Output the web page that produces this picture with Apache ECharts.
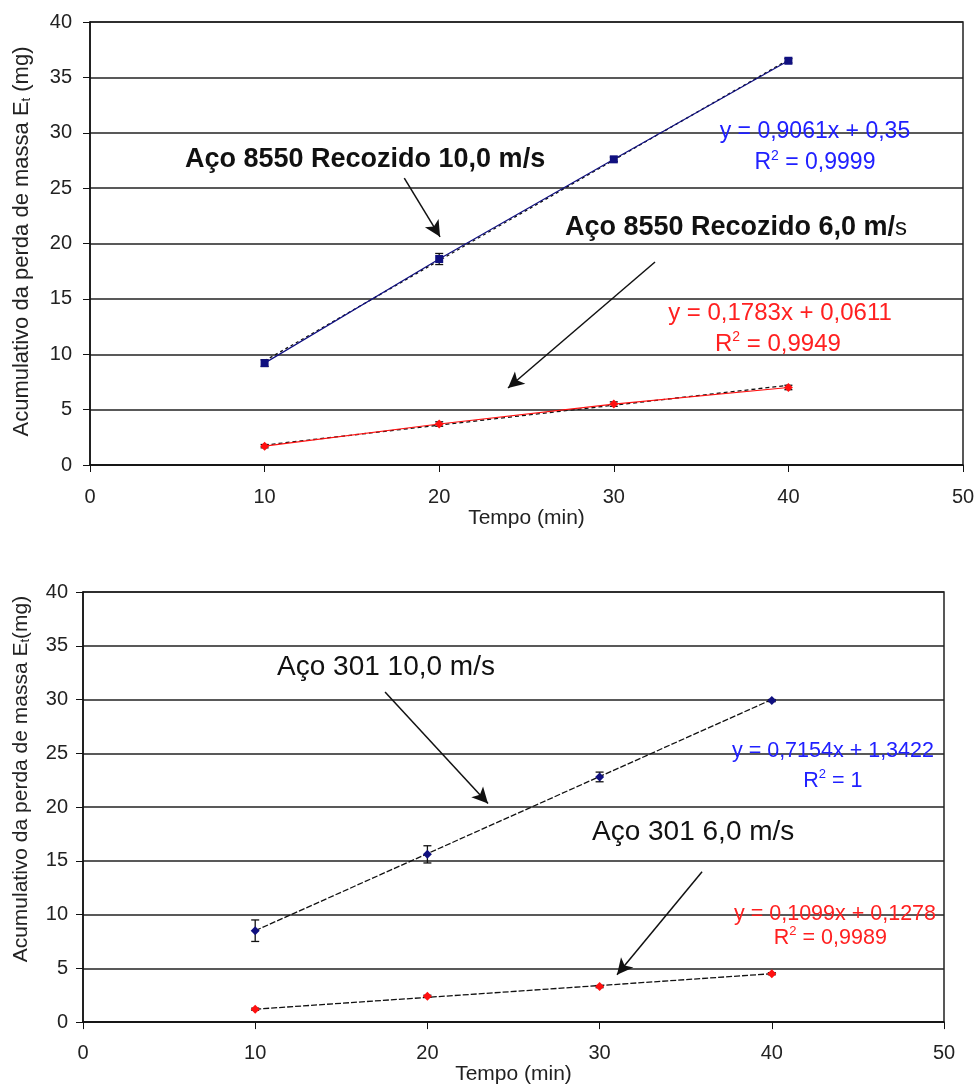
<!DOCTYPE html>
<html><head><meta charset="utf-8">
<script src="https://cdn.jsdelivr.net/npm/echarts@6/dist/echarts.min.js"></script>
<style>html,body{margin:0;padding:0;background:#fff}#c{width:978px;height:1086px}</style>
</head><body><div id="c"></div>
<script>
var times = [10, 20, 30, 40];
var xTicks = [0, 10, 20, 30, 40, 50];
var yTicks = [0, 5, 10, 15, 20, 25, 30, 35, 40];
// Top chart: Aço 8550 Recozido
var topBlue = [9.2, 18.6, 27.6, 36.5];
var topBlueErr = [0.3, 0.5, 0.2, 0.2];
var topRed = [1.7, 3.7, 5.5, 7.0];
var topRedErr = [0.15, 0.2, 0.2, 0.2];
var topBlueTrend = [[10, 9.4], [40, 36.6]];
var topRedTrend = [[10, 1.8], [40, 7.2]];
// Bottom chart: Aço 301
var botBlue = [8.5, 15.6, 22.8, 29.9];
var botBlueErr = [1.0, 0.8, 0.45, 0.1];
var botRed = [1.2, 2.4, 3.3, 4.5];
var botRedErr = [0.1, 0.1, 0.1, 0.1];
var botBlueTrend = [[10, 8.5], [40, 30.0]];
var botRedTrend = [[10, 1.2], [40, 4.5]];

var FF = "'Liberation Sans', Arial, sans-serif";
function pts(vals) { return times.map(function (t, i) { return [t, vals[i]]; }); }
function errPts(vals, errs) { return times.map(function (t, i) { return [t, vals[i] - errs[i], vals[i] + errs[i]]; }); }

function xAxis(g, gap, margin) {
  return {
    gridIndex: g, type: 'value', min: 0, max: 50, interval: 10,
    axisLine: { lineStyle: { color: '#111', width: 1.5 } },
    axisTick: { length: 7, lineStyle: { color: '#111' } },
    axisLabel: { color: '#222', fontSize: 20, fontFamily: FF, margin: margin },
    splitLine: { show: false },
    name: 'Tempo (min)', nameLocation: 'middle', nameGap: gap,
    nameTextStyle: { color: '#222', fontSize: 21, fontFamily: FF }
  };
}
function yAxis(g, title, gap, margin, fs, shiftUp) {
  return {
    gridIndex: g, type: 'value', min: 0, max: 40, interval: 5,
    axisLine: { lineStyle: { color: '#111', width: 1.5 } },
    axisTick: { length: 7, lineStyle: { color: '#111' } },
    axisLabel: { color: '#222', fontSize: 20, fontFamily: FF, margin: margin },
    splitLine: { show: true, lineStyle: { color: '#222', width: 1.5 } },
    name: title, nameLocation: 'middle', nameGap: gap, nameRotate: 90,
    nameTextStyle: { color: '#222', fontSize: fs, fontFamily: FF, padding: [0, 0, 0, shiftUp * 2],
      rich: { sub: { fontSize: 13, fontFamily: FF, color: '#222', verticalAlign: 'bottom' } } }
  };
}
function lineSeries(g, data, color, showLine, sym, size) {
  return { type: 'line', xAxisIndex: g, yAxisIndex: g, data: data, symbol: sym, symbolSize: size,
    showSymbol: true, itemStyle: { color: color },
    lineStyle: { color: color, width: showLine ? 1.2 : 0, opacity: showLine ? 1 : 0 }, z: 7, silent: true, animation: false };
}
function trendSeries(g, data, dash) {
  return { type: 'line', xAxisIndex: g, yAxisIndex: g, data: data, symbol: 'none',
    lineStyle: { color: '#111', width: 1.3, type: dash }, z: 5, silent: true, animation: false };
}
function errSeries(g, data) {
  return { type: 'custom', xAxisIndex: g, yAxisIndex: g, data: data, z: 6, silent: true, animation: false,
    renderItem: function (params, api) {
      var lo = api.coord([api.value(0), api.value(1)]);
      var hi = api.coord([api.value(0), api.value(2)]);
      var st = { stroke: '#111', lineWidth: 1.3 };
      return { type: 'group', children: [
        { type: 'line', shape: { x1: lo[0], y1: lo[1], x2: hi[0], y2: hi[1] }, style: st },
        { type: 'line', shape: { x1: lo[0] - 4, y1: lo[1], x2: lo[0] + 4, y2: lo[1] }, style: st },
        { type: 'line', shape: { x1: hi[0] - 4, y1: hi[1], x2: hi[0] + 4, y2: hi[1] }, style: st }
      ] };
    } };
}
function arrowSeries(g, arrows) {
  return { type: 'line', xAxisIndex: g, yAxisIndex: g, data: [], silent: true, animation: false,
    markLine: { silent: true, animation: false, symbol: ['none', 'arrow'], symbolSize: [12, 16],
      label: { show: false }, lineStyle: { color: '#111', width: 1.5, type: 'solid' },
      data: arrows.map(function (a) { return [{ coord: a[0] }, { coord: a[1] }]; }) } };
}

var chart = echarts.init(document.getElementById('c'), null, { renderer: 'canvas' });
var option = {
  backgroundColor: '#fff',
  animation: false,
  grid: [
    { left: 90, right: 15, top: 22, height: 443, show: true, borderColor: '#222', borderWidth: 1.5 },
    { left: 83, right: 34, top: 592, height: 435, show: true, borderColor: '#222', borderWidth: 1.5 }
  ],
  xAxis: [xAxis(0, 32, 22), xAxis(1, 40, 21)],
  yAxis: [
    yAxis(0, 'Acumulativo da perda de massa E{sub|t} (mg)', 57, 18, 22, 2),
    yAxis(1, 'Acumulativo da perda de massa E{sub|t}(mg)', 51, 15, 21, 28)
  ],
  series: [
    lineSeries(0, pts(topBlue), '#101080', true, 'rect', 8),
    lineSeries(0, pts(topRed), '#ff1010', true, 'diamond', 9),
    trendSeries(0, topBlueTrend, [3, 3]), trendSeries(0, topRedTrend, [4, 3]),
    errSeries(0, errPts(topBlue, topBlueErr)), errSeries(0, errPts(topRed, topRedErr)),
    lineSeries(1, pts(botBlue), '#101080', false, 'diamond', 9),
    lineSeries(1, pts(botRed), '#ff1010', false, 'diamond', 9),
    trendSeries(1, botBlueTrend, [6, 2]), trendSeries(1, botRedTrend, [6, 2]),
    errSeries(1, errPts(botBlue, botBlueErr)), errSeries(1, errPts(botRed, botRedErr)),
    arrowSeries(0, [[[18.0, 25.9], [20.05, 20.6]], [[32.36, 18.33], [23.94, 6.95]]]),
    arrowSeries(1, [[[17.54, 30.71], [23.52, 20.32]], [[35.95, 13.98], [31.01, 4.41]]])
  ]
};
chart.setOption(option);

// Annotations (data coordinates) -> pixel via chart scales
var notes = [
  { g: 0, at: [5.44, 27.54], text: 'Aço 8550 Recozido 10,0 m/s', align: 'left', size: 27, bold: true, color: '#111' },
  { g: 0, at: [27.2, 21.4], text: 'Aço 8550 Recozido 6,0 m/{n|s}', align: 'left', size: 27, bold: true, color: '#111' },
  { g: 0, at: [41.52, 30.07], text: 'y = 0,9061x + 0,35', align: 'center', size: 23, color: '#2020ff' },
  { g: 0, at: [41.52, 27.27], text: 'R{sup|2} = 0,9999', align: 'center', size: 23, color: '#2020ff' },
  { g: 0, at: [39.52, 13.72], text: 'y = 0,1783x + 0,0611', align: 'center', size: 24, color: '#ff2020' },
  { g: 0, at: [39.4, 10.93], text: 'R{sup|2} = 0,9949', align: 'center', size: 24, color: '#ff2020' },
  { g: 1, at: [11.27, 33.01], text: 'Aço 301 10,0 m/s', align: 'left', size: 28, color: '#111' },
  { g: 1, at: [29.56, 17.66], text: 'Aço 301 6,0 m/s', align: 'left', size: 28, color: '#111' },
  { g: 1, at: [43.55, 25.2], text: 'y = 0,7154x + 1,3422', align: 'center', size: 21.5, color: '#2020ff' },
  { g: 1, at: [43.55, 22.44], text: 'R{sup|2} = 1', align: 'center', size: 21.5, color: '#2020ff' },
  { g: 1, at: [43.67, 10.02], text: 'y = 0,1099x + 0,1278', align: 'center', size: 21.5, color: '#ff2020' },
  { g: 1, at: [43.4, 7.82], text: 'R{sup|2} = 0,9989', align: 'center', size: 21.5, color: '#ff2020' }
];
var graphics = notes.map(function (n) {
  var p = chart.convertToPixel({ gridIndex: n.g }, n.at);
  var size = n.size;
  return { type: 'text', x: p[0], y: p[1], z: 20, silent: true,
    style: { text: n.text, fill: n.color, fontFamily: FF, fontSize: size, fontWeight: n.bold ? 'bold' : 'normal',
      align: n.align, verticalAlign: 'middle', lineHeight: size + 4,
      rich: {
        sup: { fontSize: Math.round(size * 0.6), fill: n.color, fontFamily: FF, verticalAlign: 'top', lineHeight: size + 4 },
        n: { fontSize: size - 3, fontWeight: 'normal', fill: n.color, fontFamily: FF, lineHeight: size + 4 }
      } } };
});
chart.setOption({ graphic: graphics });
</script>
</body></html>
